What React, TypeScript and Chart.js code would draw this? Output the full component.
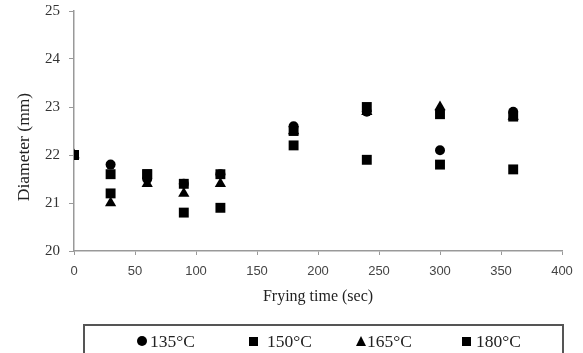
import React, { useEffect, useRef } from "react";
import { Chart, registerables } from "chart.js";

Chart.register(...registerables);

const times = [0, 30, 60, 90, 120, 180, 240, 300, 360];
const seriesNames = ["135°C", "150°C", "165°C", "180°C"];
const d135 = [22.0, 21.8, 21.5, 21.4, 21.6, 22.6, 22.9, 22.1, 22.9];
const d150 = [22.0, 21.6, 21.6, 20.8, 20.9, 22.2, 21.9, 21.8, 21.7];
const d165 = [22.0, 21.0, 21.4, 21.2, 21.4, 22.5, 22.9, 23.0, 22.8];
const d180 = [22.0, 21.2, 21.6, 21.4, 21.6, 22.5, 23.0, 22.85, 22.8];
const pointStyles = ["circle", "rect", "triangle", "rect"];
const pointSizes = [5, 7, 6.5, 7];
const xTicks = [0, 50, 100, 150, 200, 250, 300, 350, 400];
const yTicks = [20, 21, 22, 23, 24, 25];
const yTitle = "Diameter (mm)";
const xTitle = "Frying time (sec)";

const SERIF = "'Liberation Serif', 'Times New Roman', serif";
const SANS = "'Liberation Sans', Arial, sans-serif";

const yTitlePlugin = {
  id: "yTitleOffset",
  afterDraw(chart: any) {
    const { ctx, chartArea } = chart;
    ctx.save();
    ctx.translate(24, (chartArea.top + chartArea.bottom) / 2 + 16);
    ctx.rotate(-Math.PI / 2);
    ctx.font = `17.5px ${SERIF}`;
    ctx.fillStyle = "#222";
    ctx.textAlign = "center";
    ctx.textBaseline = "middle";
    ctx.fillText(yTitle, 0, 0);
    ctx.restore();
  },
};

export default function App() {
  const ref = useRef<HTMLCanvasElement | null>(null);

  useEffect(() => {
    document.body.style.margin = "0";
    const all = [d135, d150, d165, d180];
    const chart = new Chart(ref.current!, {
      type: "scatter",
      data: {
        datasets: all.map((arr, i) => ({
          label: seriesNames[i],
          data: arr.map((v, j) => ({ x: times[j], y: v })),
          pointStyle: pointStyles[i] as any,
          pointRadius: pointSizes[i],
          backgroundColor: "#000",
          borderColor: "#000",
          borderWidth: 0,
        })),
      },
      plugins: [yTitlePlugin],
      options: {
        animation: false,
        responsive: false,
        layout: { padding: { top: 11, right: 21, bottom: 46, left: 8 } },
        plugins: { legend: { display: false }, tooltip: { enabled: false } },
        scales: {
          x: {
            type: "linear",
            min: 0,
            max: 400,
            afterBuildTicks: (s: any) => {
              s.ticks = xTicks.map((v) => ({ value: v }));
            },
            afterFit: (s: any) => {
              s.height = 56;
              s.paddingLeft = 0;
              s.paddingRight = 0;
            },
            ticks: { color: "#444", font: { family: SANS, size: 13 }, padding: 9 },
            grid: { display: true, drawOnChartArea: false, drawTicks: true, tickLength: 4, color: "#999" },
            border: { color: "#999", width: 1.5 },
            title: {
              display: true,
              text: xTitle,
              color: "#222",
              font: { family: SERIF, size: 16 },
              padding: { top: 2, bottom: 1 },
            },
          },
          y: {
            type: "linear",
            min: 20,
            max: 25,
            afterBuildTicks: (s: any) => {
              s.ticks = yTicks.map((v) => ({ value: v }));
            },
            afterFit: (s: any) => {
              s.width = 66;
              s.paddingTop = 0;
              s.paddingBottom = 0;
            },
            ticks: { color: "#333", font: { family: SERIF, size: 15 }, padding: 9 },
            grid: { display: true, drawOnChartArea: false, drawTicks: true, tickLength: 5, color: "#999" },
            border: { color: "#999", width: 1.5 },
            title: { display: false },
          },
        },
      },
    });
    return () => chart.destroy();
  }, []);

  const itemLefts = [54, 166, 273, 379];

  const marker = (i: number) => {
    const style = pointStyles[i];
    if (style === "circle")
      return <span style={{ display: "inline-block", width: 10, height: 10, borderRadius: "50%", background: "#000", marginRight: 3 }} />;
    if (style === "triangle")
      return (
        <span
          style={{
            display: "inline-block",
            width: 0,
            height: 0,
            borderLeft: "5.5px solid transparent",
            borderRight: "5.5px solid transparent",
            borderBottom: "10px solid #000",
            marginRight: 1,
          }}
        />
      );
    return <span style={{ display: "inline-block", width: 9, height: 9, background: "#000", marginRight: i === 1 ? 9 : 5 }} />;
  };

  return (
    <div style={{ position: "relative", width: 583, height: 353, overflow: "hidden" }}>
      <canvas ref={ref} width={583} height={353} style={{ display: "block" }} />
      <div
        style={{
          position: "absolute",
          left: 83,
          top: 324,
          width: 481,
          height: 34,
          border: "2px solid #555",
          boxSizing: "border-box",
          fontFamily: SERIF,
          fontSize: 17.5,
          color: "#222",
        }}
      >
        {seriesNames.map((n, i) => (
          <span
            key={n}
            style={{
              position: "absolute",
              left: itemLefts[i] - 2,
              top: 5,
              display: "inline-flex",
              alignItems: "center",
              lineHeight: "20px",
            }}
          >
            {marker(i)}
            {n}
          </span>
        ))}
      </div>
    </div>
  );
}
